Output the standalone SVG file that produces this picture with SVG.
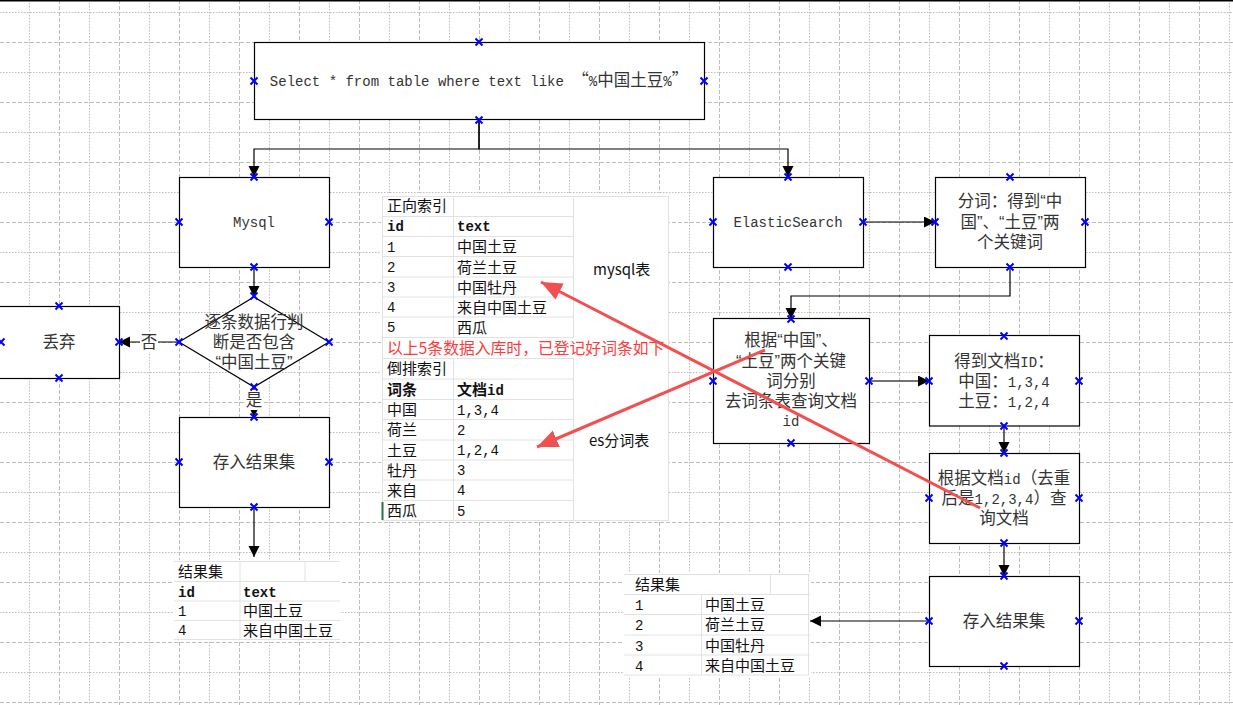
<svg xmlns="http://www.w3.org/2000/svg" width="1233" height="705" viewBox="0 0 1233 705">
<style>
.gd{fill:none;stroke:#bdbdbd;stroke-width:1;stroke-dasharray:4 2}
.gt{fill:none;stroke:#bdbdbd;stroke-width:1;stroke-dasharray:1.5 1.5}
.box{fill:#fff;stroke:#000;stroke-width:1.2}
.cj{font-family:"Liberation Sans","Noto Sans CJK SC",sans-serif;font-size:16.5px;fill:#333;text-anchor:middle}
.mono{font-family:"Liberation Mono","Noto Sans CJK SC",monospace;font-size:14px;fill:#333;text-anchor:middle}
tspan.l{font-family:"Liberation Mono",monospace;font-size:14px}
.tc{font-family:"Noto Sans CJK SC",sans-serif;font-size:15px;fill:#111}
.tl{font-family:"Liberation Mono",monospace;font-size:14px;fill:#111}
.b{font-weight:bold}
.cell{fill:none;stroke:#e2e2e2;stroke-width:1}
.con{fill:none;stroke:#000;stroke-width:1.2}
.red{fill:none;stroke:#f25050;stroke-width:3}
.ax{fill:none;stroke:#0000ff;stroke-width:2}
</style>
<defs>
<marker id="ah" markerUnits="userSpaceOnUse" markerWidth="12" markerHeight="12" refX="11" refY="5.5" orient="auto"><path d="M0,0 L11,5.5 L0,11 z" fill="#000"/></marker>
<marker id="rh" markerUnits="userSpaceOnUse" markerWidth="24" markerHeight="20" refX="21" refY="9" orient="auto"><path d="M0,0 L21,9 L0,18 z" fill="#f25050"/></marker>
<path id="x" class="ax" d="M-3.5,-3.5 L3.5,3.5 M3.5,-3.5 L-3.5,3.5"/>
</defs>
<rect width="1233" height="705" fill="#fff"/>
<g id="grid">
<path class="gt" d="M29.5,0V705M89.5,0V705M149.5,0V705M209.5,0V705M269.5,0V705M329.5,0V705M389.5,0V705M449.5,0V705M509.5,0V705M569.5,0V705M629.5,0V705M689.5,0V705M749.5,0V705M809.5,0V705M869.5,0V705M929.5,0V705M989.5,0V705M1049.5,0V705M1109.5,0V705M1169.5,0V705M1229.5,0V705"/>
<path class="gd" d="M59.5,0V705M119.5,0V705M179.5,0V705M239.5,0V705M299.5,0V705M359.5,0V705M419.5,0V705M479.5,0V705M539.5,0V705M599.5,0V705M659.5,0V705M719.5,0V705M779.5,0V705M839.5,0V705M899.5,0V705M959.5,0V705M1019.5,0V705M1079.5,0V705M1139.5,0V705M1199.5,0V705"/>
<path class="gt" d="M0,12.5H1233M0,72.5H1233M0,132.5H1233M0,192.5H1233M0,252.5H1233M0,312.5H1233M0,372.5H1233M0,432.5H1233M0,492.5H1233M0,552.5H1233M0,612.5H1233M0,672.5H1233"/>
<path class="gd" d="M0,42.5H1233M0,102.5H1233M0,162.5H1233M0,222.5H1233M0,282.5H1233M0,342.5H1233M0,402.5H1233M0,462.5H1233M0,522.5H1233M0,582.5H1233M0,642.5H1233M0,702.5H1233"/>
<rect x="0" y="0" width="1233" height="1.5" fill="#000"/>
</g>
<g id="index-table">
<rect x="381" y="193" width="288" height="329" fill="#fff"/>
<path class="cell" d="M382,196.5H668.5M382,216.5H573.5M382,236.5H573.5M382,256.5H573.5M382,277H573.5M382,297H573.5M382,317H573.5M382,337.5H573.5M382,358.5H573.5M382,379H573.5M382,399.5H573.5M382,419.5H573.5M382,440H573.5M382,460H573.5M382,480H573.5M382,500.5H573.5M382,520.5H668.5M382.5,196V521M453.5,196V337.5M453.5,358.5V521M573.5,196V337.5M573.5,358.5V521M668.5,196V521"/>
<line x1="382.5" y1="502" x2="382.5" y2="520" stroke="#217346" stroke-width="2"/>
<text class="tc" x="387" y="211">正向索引</text>
<text class="tl b" x="387" y="231">id</text><text class="tl b" x="457" y="231">text</text>
<text class="tl" x="387" y="251.5">1</text><text class="tc" x="457" y="252">中国土豆</text>
<text class="tl" x="387" y="272">2</text><text class="tc" x="457" y="272.5">荷兰土豆</text>
<text class="tl" x="387" y="292">3</text><text class="tc" x="457" y="292.5">中国牡丹</text>
<text class="tl" x="387" y="312">4</text><text class="tc" x="457" y="312.5">来自中国土豆</text>
<text class="tl" x="387" y="332">5</text><text class="tc" x="457" y="332.5">西瓜</text>
<text class="tc" x="593" y="275">mysql表</text>
<text class="tc" x="387" y="353.5" style="fill:#ff3b3b;font-size:15.8px">以上5条数据入库时，已登记好词条如下</text>
<text class="tc" x="387" y="374">倒排索引</text>
<text class="tc b" x="387" y="394.5">词条</text><text class="tc b" x="457" y="394.5">文档<tspan class="l">id</tspan></text>
<text class="tc" x="387" y="415">中国</text><text class="tl" x="457" y="414.5">1,3,4</text>
<text class="tc" x="387" y="435">荷兰</text><text class="tl" x="457" y="434.5">2</text>
<text class="tc" x="387" y="455.5">土豆</text><text class="tl" x="457" y="455">1,2,4</text>
<text class="tc" x="387" y="475.5">牡丹</text><text class="tl" x="457" y="475">3</text>
<text class="tc" x="387" y="495.5">来自</text><text class="tl" x="457" y="495">4</text>
<text class="tc" x="387" y="516">西瓜</text><text class="tl" x="457" y="515.5">5</text>
<text class="tc" x="589" y="446">es分词表</text>
</g>
<g id="result-table-left">
<rect x="174" y="560" width="166" height="81" fill="#fff"/>
<path class="cell" d="M174,561.5H340M174,581.5H340M174,601H340M174,620.5H340M174,639.5H340M240,561.5V639.5M305,561.5V581.5"/>
<text class="tc" x="178" y="577">结果集</text>
<text class="tl b" x="178" y="596.5">id</text><text class="tl b" x="243" y="596.5">text</text>
<text class="tl" x="178" y="615.5">1</text><text class="tc" x="243" y="616">中国土豆</text>
<text class="tl" x="178" y="635">4</text><text class="tc" x="243" y="635.5">来自中国土豆</text>
</g>
<g id="result-table-right">
<rect x="624" y="573" width="187" height="104" fill="#fff"/>
<path class="cell" d="M624,574.5H810M624,594.5H810M624,614.5H810M624,635H810M624,655H810M624,675H810M701.5,594.5V675M770.5,574.5V594.5M808.5,574.5V675"/>
<text class="tc" x="635" y="590">结果集</text>
<text class="tl" x="635" y="610">1</text><text class="tc" x="705" y="610">中国土豆</text>
<text class="tl" x="635" y="630">2</text><text class="tc" x="705" y="630">荷兰土豆</text>
<text class="tl" x="635" y="650.5">3</text><text class="tc" x="705" y="650.5">中国牡丹</text>
<text class="tl" x="635" y="670.5">4</text><text class="tc" x="705" y="670.5">来自中国土豆</text>
</g>
<g id="connectors">
<path class="con" d="M479,120 V149 H254 V177" marker-end="url(#ah)"/>
<path class="con" d="M479,120 V149 H788 V177" marker-end="url(#ah)"/>
<path class="con" d="M254,267 V297" marker-end="url(#ah)"/>
<path class="con" d="M179,342 H119" marker-end="url(#ah)"/>
<path class="con" d="M254,387 V417" marker-end="url(#ah)"/>
<path class="con" d="M254,507 V557" marker-end="url(#ah)"/>
<path class="con" d="M863,222 H935" marker-end="url(#ah)"/>
<path class="con" d="M1010,267 V296 H791 V319" marker-end="url(#ah)"/>
<path class="con" d="M869,381 H929" marker-end="url(#ah)" style="stroke:#444;stroke-width:1.6"/>
<path class="con" d="M1004,426 V453" marker-end="url(#ah)"/>
<path class="con" d="M1004,543 V576" marker-end="url(#ah)"/>
<path class="con" d="M929,621 H810" marker-end="url(#ah)"/>
<rect x="140" y="332" width="18" height="20" fill="#fff"/>
<text class="cj" x="149" y="348">否</text>
<rect x="245" y="390" width="18" height="20" fill="#fff"/>
<text class="cj" x="254" y="406">是</text>
</g>
<g id="n-query">
<rect class="box" x="254.5" y="42.5" width="450" height="77"/>
<text class="mono" x="479" y="86">Select * from table where text like <tspan style="font-family:'Noto Sans CJK SC',sans-serif;font-size:16.5px">“</tspan>%<tspan style="font-family:'Noto Sans CJK SC',sans-serif;font-size:16.5px">中国土豆</tspan>%<tspan style="font-family:'Noto Sans CJK SC',sans-serif;font-size:16.5px">”</tspan></text>
<use href="#x" x="254" y="81"/><use href="#x" x="479" y="42"/><use href="#x" x="704" y="81"/><use href="#x" x="479" y="120"/>
</g>
<g id="n-mysql">
<rect class="box" x="179.5" y="177.5" width="150" height="90"/>
<text class="mono" x="254" y="227">Mysql</text>
<use href="#x" x="179" y="222"/><use href="#x" x="254" y="177"/><use href="#x" x="329" y="222"/><use href="#x" x="254" y="267"/>
</g>
<g id="n-judge">
<polygon class="box" points="254,297 329,342 254,387 179,342"/>
<text class="cj" x="254" y="328">逐条数据行判</text>
<text class="cj" x="254" y="348">断是否包含</text>
<text class="cj" x="254" y="368">“中国土豆”</text>
<use href="#x" x="179" y="342"/><use href="#x" x="254" y="296"/><use href="#x" x="329" y="342"/><use href="#x" x="254" y="387"/>
</g>
<g id="n-discard">
<rect class="box" x="-1" y="306.5" width="120.5" height="72"/>
<text class="cj" x="59" y="348">丢弃</text>
<use href="#x" x="1" y="342"/><use href="#x" x="59" y="306"/><use href="#x" x="119" y="342"/><use href="#x" x="59" y="378"/>
</g>
<g id="n-store-left">
<rect class="box" x="179.5" y="417.5" width="150" height="90"/>
<text class="cj" x="254" y="468">存入结果集</text>
<use href="#x" x="179" y="462"/><use href="#x" x="254" y="417"/><use href="#x" x="329" y="462"/><use href="#x" x="254" y="507"/>
</g>
<g id="n-es">
<rect class="box" x="713.5" y="177.5" width="150" height="90"/>
<text class="mono" x="788" y="227">ElasticSearch</text>
<use href="#x" x="713" y="222"/><use href="#x" x="788" y="177"/><use href="#x" x="863" y="222"/><use href="#x" x="788" y="267"/>
</g>
<g id="n-tokenize">
<rect class="box" x="935.5" y="177.5" width="150" height="90"/>
<text class="cj" x="1010" y="207">分词：得到“中</text>
<text class="cj" x="1010" y="228">国”、“土豆”两</text>
<text class="cj" x="1010" y="248">个关键词</text>
<use href="#x" x="935" y="222"/><use href="#x" x="1010" y="177"/><use href="#x" x="1085" y="222"/><use href="#x" x="1010" y="267"/>
</g>
<g id="n-lookup">
<rect class="box" x="713.5" y="318.5" width="156" height="125"/>
<text class="cj" x="791" y="346">根据“中国”、</text>
<text class="cj" x="791" y="366.5">“土豆”两个关键</text>
<text class="cj" x="791" y="387">词分别</text>
<text class="cj" x="791" y="407">去词条表查询文档</text>
<text class="mono" x="791" y="426">id</text>
<use href="#x" x="713" y="381"/><use href="#x" x="791" y="319"/><use href="#x" x="869" y="381"/><use href="#x" x="791" y="443"/>
</g>
<g id="n-docids">
<rect class="box" x="929.5" y="335.5" width="150" height="90.5"/>
<text class="cj" x="1004" y="366.5">得到文档<tspan class="l">ID</tspan>：</text>
<text class="cj" x="1004" y="387">中国：<tspan class="l">1,3,4</tspan></text>
<text class="cj" x="1004" y="407">土豆：<tspan class="l">1,2,4</tspan></text>
<use href="#x" x="929" y="381"/><use href="#x" x="1004" y="336"/><use href="#x" x="1079" y="381"/><use href="#x" x="1004" y="426"/>
</g>
<g id="n-fetch">
<rect class="box" x="929.5" y="453.5" width="150" height="90"/>
<text class="cj" x="1004" y="484">根据文档<tspan class="l">id</tspan>（去重</text>
<text class="cj" x="1004" y="504">后是<tspan class="l">1,2,3,4</tspan>）查</text>
<text class="cj" x="1004" y="524">询文档</text>
<use href="#x" x="929" y="498"/><use href="#x" x="1004" y="453"/><use href="#x" x="1079" y="498"/><use href="#x" x="1004" y="543"/>
</g>
<g id="n-store-right">
<rect class="box" x="929.5" y="576.5" width="150" height="90"/>
<text class="cj" x="1004" y="627">存入结果集</text>
<use href="#x" x="929" y="621"/><use href="#x" x="1004" y="576"/><use href="#x" x="1079" y="621"/><use href="#x" x="1004" y="666"/>
</g>
<g id="annotations">
<line class="red" x1="980" y1="508" x2="541" y2="282" marker-end="url(#rh)"/>
<line class="red" x1="765" y1="350" x2="537" y2="447" marker-end="url(#rh)"/>
</g>
</svg>
